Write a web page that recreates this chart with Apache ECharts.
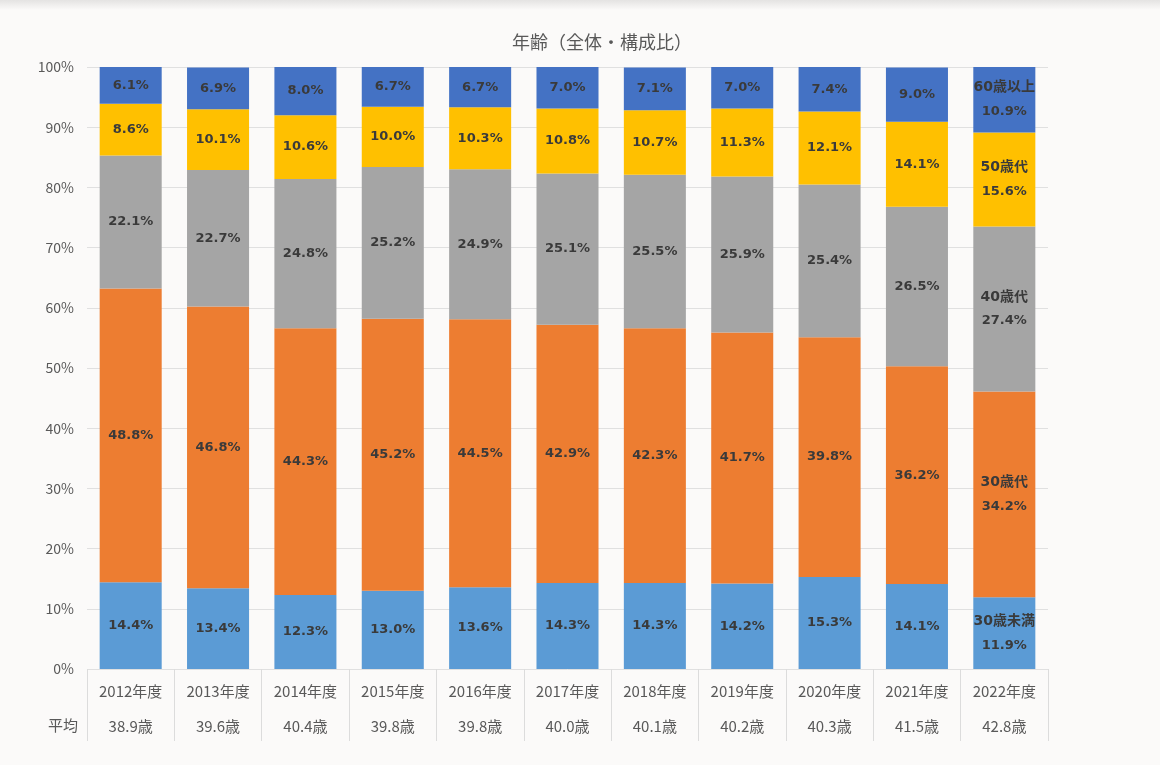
<!DOCTYPE html>
<html><head><meta charset="utf-8">
<script src="https://cdn.jsdelivr.net/npm/echarts@6/dist/echarts.min.js"></script>
<style>html,body{margin:0;padding:0;background:#fbfaf9}#c{width:1160px;height:765px}</style>
</head><body><div id="c"></div>
<script>
const categories = ['2012年度','2013年度','2014年度','2015年度','2016年度','2017年度','2018年度','2019年度','2020年度','2021年度','2022年度'];
const averages = ['38.9歳','39.6歳','40.4歳','39.8歳','39.8歳','40.0歳','40.1歳','40.2歳','40.3歳','41.5歳','42.8歳'];
const seriesNames = ['30歳未満','30歳代','40歳代','50歳代','60歳以上'];
const under30 = [14.4,13.4,12.3,13.0,13.6,14.3,14.3,14.2,15.3,14.1,11.9];
const age30s = [48.8,46.8,44.3,45.2,44.5,42.9,42.3,41.7,39.8,36.2,34.2];
const age40s = [22.1,22.7,24.8,25.2,24.9,25.1,25.5,25.9,25.4,26.5,27.4];
const age50s = [8.6,10.1,10.6,10.0,10.3,10.8,10.7,11.3,12.1,14.1,15.6];
const over60 = [6.1,6.9,8.0,6.7,6.7,7.0,7.1,7.0,7.4,9.0,10.9];
const yTicks = [0,10,20,30,40,50,60,70,80,90,100];

const colors = ['#5b9bd5','#ed7d31','#a5a5a5','#ffc000','#4472c4'];
const dataSets = [under30, age30s, age40s, age50s, over60];
const lastIdx = categories.length - 1;

const chart = echarts.init(document.getElementById('c'));
chart.setOption({
  backgroundColor: '#fbfaf9',
  animation: false,
  title: {
    text: '年齢（全体・構成比）',
    left: 597, top: 28, textAlign: 'center',
    textStyle: {color: '#595959', fontSize: 18, fontWeight: 'normal', fontFamily: 'Noto Sans CJK JP'}
  },
  graphic: [
    {type: 'rect', shape: {x: 0, y: 0, width: 1160, height: 10},
     style: {fill: new echarts.graphic.LinearGradient(0,0,0,1,[{offset:0,color:'#e4e3e2'},{offset:1,color:'#fbfaf9'}])}, silent: true},
    {type: 'text', left: 48, top: 718, style: {text: '平均', fill: '#595959', fontSize: 15, fontFamily: 'Noto Sans CJK JP'}}
  ],
  grid: {left: 87, right: 112, top: 67, bottom: 96},
  xAxis: {
    type: 'category', data: categories,
    axisLine: {show: false},
    axisTick: {show: true, interval: 0, length: 72, lineStyle: {color: '#dcdcdc'}},
    axisLabel: {
      interval: 0, margin: 5,
      formatter: function (v, i) { return '{a|' + v + '}\n{b|' + averages[i] + '}'; },
      rich: {
        a: {color: '#595959', fontSize: 15, fontFamily: 'Noto Sans CJK JP', lineHeight: 35},
        b: {color: '#595959', fontSize: 15, fontFamily: 'Noto Sans CJK JP', lineHeight: 35}
      }
    }
  },
  yAxis: {
    type: 'value', min: 0, max: 100, interval: 10,
    axisLine: {show: false}, axisTick: {show: false},
    axisLabel: {formatter: v => yTicks.includes(v) ? v + '%' : '', color: '#595959', fontSize: 14, margin: 13, fontFamily: 'Noto Sans CJK JP'},
    splitLine: {lineStyle: {color: '#e0e0e0'}}
  },
  series: dataSets.map((d, s) => ({
    name: seriesNames[s], type: 'bar', stack: 'total', barWidth: '71%',
    itemStyle: {color: colors[s]},
    data: d,
    label: {
      show: true, position: 'inside',
      color: '#3a3a3a', fontSize: 13, fontWeight: 'bold', fontFamily: 'DejaVu Sans, Noto Sans CJK JP', lineHeight: 24,
      formatter: p => p.dataIndex === lastIdx ? '{n|' + seriesNames[s] + '}\n' + p.value.toFixed(1) + '%' : p.value.toFixed(1) + '%',
      rich: {
        n: {color: '#3a3a3a', fontSize: 14, fontWeight: 'bold', fontFamily: 'DejaVu Sans, Noto Sans CJK JP', lineHeight: 24}
      }
    }
  }))
});
</script></body></html>
